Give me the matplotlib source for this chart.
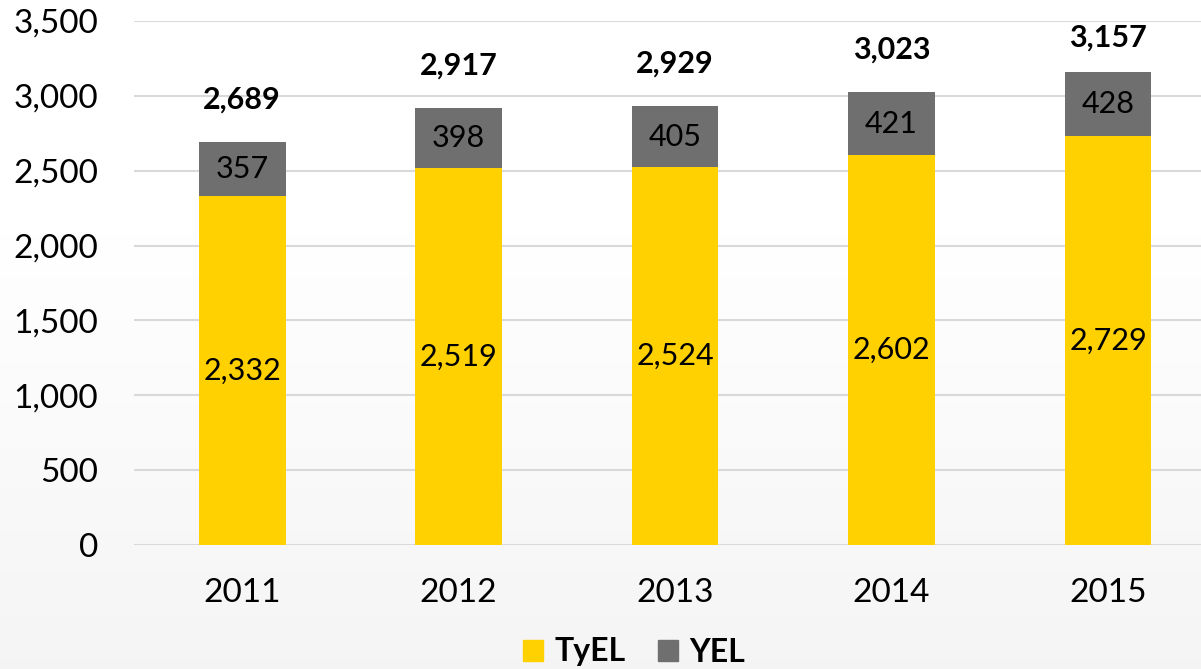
import numpy as np
import matplotlib.pyplot as plt
from matplotlib.patches import Patch

years = ["2011", "2012", "2013", "2014", "2015"]
tyel = [2332, 2519, 2524, 2602, 2729]
yel = [357, 398, 405, 421, 428]
totals = [2689, 2917, 2929, 3023, 3157]
yticks = [0, 500, 1000, 1500, 2000, 2500, 3000, 3500]

plt.rcParams['font.family'] = ['Lato', 'DejaVu Sans']

yellow = '#FFD100'
grey = '#706F6F'

fig = plt.figure(figsize=(12.01, 6.69), dpi=100)

# background: white at top fading to light grey at the bottom
bg = fig.add_axes([0, 0, 1, 1], zorder=-10)
t = np.linspace(0, 1, 256)
t = np.clip((t - 0.35) / 0.65, 0, 1)
shade = 1 - 0.04 * t
img = np.repeat(shade[:, None], 2, axis=1)
img = np.dstack([img, img, img])
bg.imshow(img, aspect='auto', extent=[0, 1, 0, 1], origin='upper', interpolation='bilinear')
bg.set_xlim(0, 1)
bg.set_ylim(0, 1)
bg.axis('off')

# plot area: 0 at y=545px, 3500 at y=21px; x from 134px to right edge
W, H = 1201, 669
ax = fig.add_axes([134 / W, (H - 545) / H, (W - 134) / W, (545 - 21) / H])
ax.patch.set_alpha(0)

x = np.arange(len(years))
w = 0.40
ax.bar(x, tyel, w, color=yellow, zorder=3)
ax.bar(x, yel, w, bottom=tyel, color=grey, zorder=3)

for i in range(len(years)):
    ax.text(x[i], tyel[i] / 2, f"{tyel[i]:,}", ha='center', va='center', fontsize=22, zorder=4)
    ax.text(x[i], tyel[i] + yel[i] / 2, f"{yel[i]:,}", ha='center', va='center', fontsize=22, zorder=4)
    # total label above the bar, kept inside the plot area like Excel does
    ty = min(totals[i] + 285, 3390)
    ax.text(x[i], ty, f"{totals[i]:,}", ha='center', va='center',
            fontsize=22, fontweight='bold', zorder=4)

ax.set_xlim(-0.5, 4 + 93 / 216.5)
ax.set_ylim(0, 3500)
ax.set_yticks(yticks)
ax.set_yticklabels([f"{v:,}" for v in yticks], fontsize=24)
ax.set_xticks(x)
ax.set_xticklabels(years, fontsize=24)
ax.tick_params(length=0)
ax.tick_params(axis='y', pad=26)
ax.tick_params(axis='x', pad=24)
ax.yaxis.grid(True, color='#d9d9d9', linewidth=1.5, zorder=0)
for s in ax.spines.values():
    s.set_visible(False)

handles = [Patch(color=yellow, label='TyEL'), Patch(color=grey, label='YEL')]
leg = fig.legend(handles=handles, loc='center', bbox_to_anchor=(634 / W, 1 - 652 / H),
                 ncol=2, frameon=False, prop={'weight': 'bold', 'size': 23},
                 handlelength=0.65, handleheight=0.65, handletextpad=0.35, columnspacing=1.0)

fig.savefig('out.png', dpi=100)
